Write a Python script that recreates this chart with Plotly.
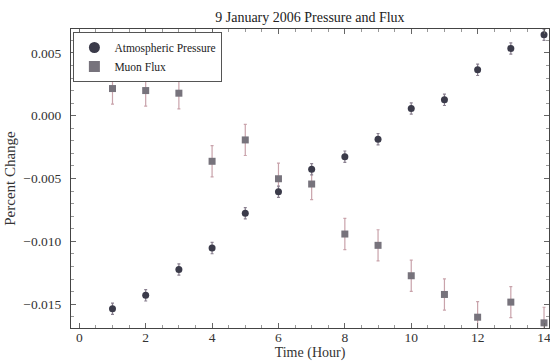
import plotly.graph_objects as go

hours = [1, 2, 3, 4, 5, 6, 7, 8, 9, 10, 11, 12, 13, 14]
pressure = [-0.01537, -0.0143, -0.01224, -0.01054, -0.00777, -0.00605, -0.00426,
            -0.00326, -0.00187, 0.00057, 0.00126, 0.00365, 0.00535, 0.00644]
pressure_err = [0.00045] * 14
flux = [0.00216, 0.0020, 0.00179, -0.00363, -0.00193, -0.00502, -0.00544,
        -0.00942, -0.01032, -0.01274, -0.01423, -0.01604, -0.01484, -0.01649]
flux_err = [0.00124] * 14

FONT = "Liberation Serif"
P_COLOR = "#3b3b4a"
F_COLOR = "#77737c"

fig = go.Figure()
fig.add_trace(go.Scatter(
    x=hours, y=flux, mode="markers", showlegend=False,
    marker=dict(symbol="square", size=7, color=F_COLOR),
    error_y=dict(type="data", array=flux_err, color="#c9a3ab", thickness=1.2, width=1.5)))
fig.add_trace(go.Scatter(
    x=hours, y=pressure, mode="markers", showlegend=False,
    marker=dict(symbol="circle", size=7, color=P_COLOR),
    error_y=dict(type="data", array=pressure_err, color="#8a8090", thickness=1.2, width=1.5)))
# legend entries (larger symbols as in the reference)
fig.add_trace(go.Scatter(x=[None], y=[None], mode="markers", name="Atmospheric Pressure",
                         marker=dict(symbol="circle", size=11, color=P_COLOR)))
fig.add_trace(go.Scatter(x=[None], y=[None], mode="markers", name="Muon Flux",
                         marker=dict(symbol="square", size=11, color=F_COLOR)))

axis_common = dict(showline=True, linecolor="#444", linewidth=1, mirror="ticks",
                   ticks="inside", ticklen=5, tickcolor="#666", showgrid=False, zeroline=False,
                   automargin=False, ticklabeloverflow="allow",
                   tickfont=dict(family=FONT, size=13.5, color="#333"))

fig.update_xaxes(range=[-0.25, 14.15], tick0=0, dtick=2, ticklabelstandoff=-3,
                 minor=dict(dtick=0.5, ticks="inside", ticklen=3, tickcolor="#999"),
                 title=dict(text="Time (Hour)", font=dict(family=FONT, size=14, color="#333"), standoff=2),
                 **axis_common)
fig.update_yaxes(range=[-0.0169, 0.0069], tick0=0, dtick=0.005, tickformat=".3f", ticklabelstandoff=6,
                 minor=dict(dtick=0.001, ticks="inside", ticklen=3, tickcolor="#999"),
                 title=dict(text="Percent Change", font=dict(family=FONT, size=15, color="#333"), standoff=4),
                 **axis_common)

fig.update_layout(
    width=550, height=362,
    margin=dict(l=71, r=1, t=29, b=34),
    plot_bgcolor="white", paper_bgcolor="white",
    title=dict(text="9 January 2006 Pressure and Flux", x=0.5635, xanchor="center",
               y=0.953, yanchor="middle", font=dict(family=FONT, size=14, color="#222")),
    legend=dict(x=0.005, y=0.99, xanchor="left", yanchor="top", bgcolor="white",
                bordercolor="#555", borderwidth=1, tracegroupgap=0,
                font=dict(family=FONT, size=11.5, color="#222"), itemwidth=30),
)

fig.write_html("out.html", config={"displayModeBar": False},
               post_script="document.body.style.margin='0';document.body.style.overflow='hidden';")
